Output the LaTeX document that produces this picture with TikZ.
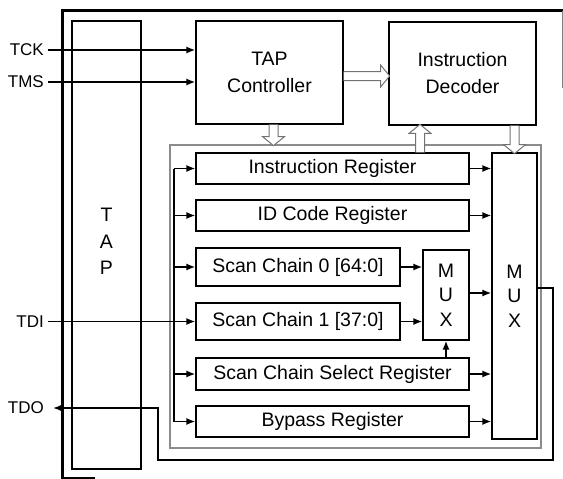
\documentclass[tikz,border=0pt]{standalone}
\usepackage{fontspec}
\setmainfont{Liberation Sans}
\usetikzlibrary{arrows.meta,calc}
\begin{document}
\begin{tikzpicture}[x=1pt,y=-1pt,
  box/.style={draw, line width=1.2pt, inner sep=0pt, align=center, font=\fontsize{19.5}{27}\selectfont},
  muxbox/.style={box, font=\fontsize{19.5}{24.5}\selectfont},
  pinlbl/.style={font=\fontsize{17}{19}\selectfont, inner ysep=0pt, anchor=east},
  arr/.style={line width=1.6pt, -{Latex[length=9pt,width=7pt]}},
  wire/.style={line width=1.6pt},
  hollowline/.style={draw=black!55, line width=1pt, fill=white},
  pics/hollow/.style={code={
    \draw[hollowline] (0,-4.5) -- ({#1-9},-4.5) -- ({#1-9},-11) -- (#1,0) -- ({#1-9},11) -- ({#1-9},4.5) -- (0,4.5);
  }}
]
\useasboundingbox (0,0) rectangle (563,479);

% outer frame
\draw[line width=3pt] (95,478) -- (62.5,478) -- (62.5,10.5) -- (563,10.5);
\draw[black!50, line width=1pt] (562,10.5) -- (562,88);

% grey enclosure of the registers
\draw[black!45, line width=1.2pt] (170,145) rectangle (541,448);

% main boxes
\node[box, minimum width=69pt, minimum height=448pt] (tap) at (106.5,245) {};
\node[font=\fontsize{19.5}{26.5}\selectfont, align=center, inner sep=0pt] (taptxt) at (106.5,241.5) {T\\A\\P};
\node[box, minimum width=147pt, minimum height=103pt] (tapc) at (269.5,72.5) {TAP\\Controller};
\node[box, minimum width=147pt, minimum height=103pt] (dec) at (462.5,73.5) {Instruction\\Decoder};

\node[box, minimum width=273pt, minimum height=31pt] (ir) at (332.5,168.5) {Instruction Register};
\node[box, minimum width=273pt, minimum height=31pt] (idr) at (332.5,215.5) {ID Code Register};
\node[box, minimum width=204pt, minimum height=38pt] (sc0) at (298,267) {Scan Chain 0 [64:0]};
\node[box, minimum width=204pt, minimum height=37pt] (sc1) at (298,321.5) {Scan Chain 1 [37:0]};
\node[box, minimum width=273pt, minimum height=32pt] (scsr) at (332.5,374) {Scan Chain Select Register};
\node[box, minimum width=273pt, minimum height=31pt] (byp) at (332.5,421.5) {Bypass Register};
\node[muxbox, minimum width=46pt, minimum height=90pt] (mux1) at (446,295) {M\\U\\X};
\node[muxbox, minimum width=45pt, minimum height=286pt] (mux2) at (514.5,296) {M\\U\\X};

% pins
\node[pinlbl, inner xsep=4pt] (tck) at (48,50) {TCK};
\node[pinlbl, inner xsep=4pt] (tms) at (48,82) {TMS};
\node[pinlbl, inner xsep=4pt] (tdi) at (48,321.5) {TDI};
\node[pinlbl, inner xsep=9pt] (tdo) at (53,408) {TDO};

\draw[arr] (tck.east) -- (tck.east -| tapc.west);
\draw[arr] (tms.east) -- (tms.east -| tapc.west);
\draw[arr] (tdi.east) -- (sc1.west);

% bus on the left
\coordinate (bt) at (174,168.5);
\coordinate (bb) at (174,421.5);
\draw[wire] (bt) -- (bb);
\foreach \n in {ir,idr,sc0,scsr,byp}
  \draw[arr] (\n.west -| bt) -- (\n.west);

% to the multiplexers
\foreach \n in {ir,idr,scsr,byp}
  \draw[arr] (\n.east) -- (\n.east -| mux2.west);
\foreach \n in {sc0,sc1}
  \draw[arr] (\n.east) -- (\n.east -| mux1.west);
\draw[arr] ([yshift=2pt]mux1.east) -- ([yshift=2pt]mux1.east -| mux2.west);
\draw[arr] (scsr.north -| mux1.south) -- (mux1.south);

% output to TDO
\coordinate (o1) at (553,460);
\coordinate (o2) at (158,460);
\draw[arr] ([yshift=8pt]mux2.east) -| (o1) -- (o2) |- (tdo.east);

% hollow arrows
\pic[rotate=-90] at ([xshift=4pt]tapc.south) {hollow=21};
\pic at ([yshift=-3.5pt]tapc.east) {hollow=46};
\pic[rotate=90] at ([xshift=87.5pt]ir.north) {hollow=28};
\pic[rotate=-90] at (dec.south -| mux2.north) {hollow=28};
\end{tikzpicture}
\end{document}
